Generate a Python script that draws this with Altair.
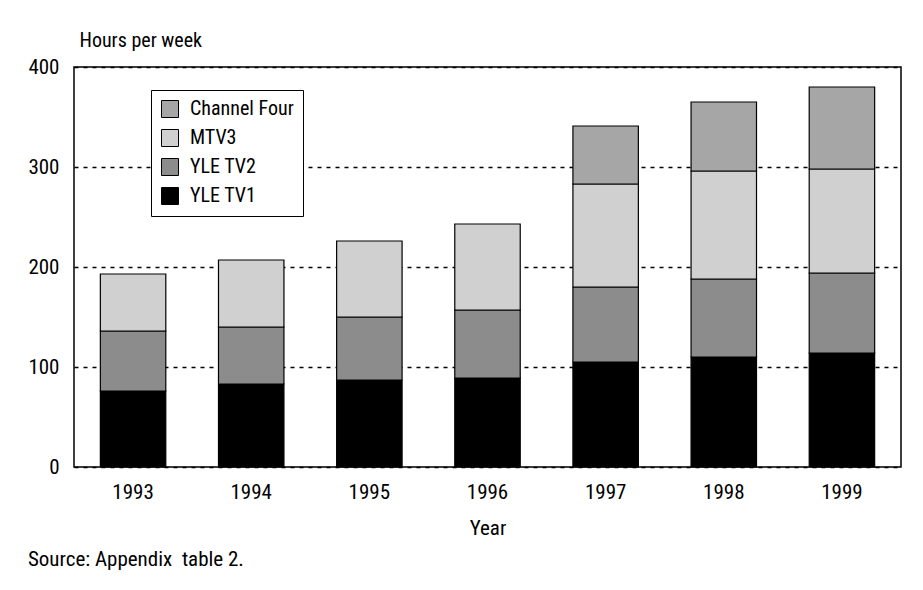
import altair as alt
import pandas as pd

years = ["1993", "1994", "1995", "1996", "1997", "1998", "1999"]
# segment heights (hours per week)
tv1 = [76, 83, 87, 89, 105, 110, 114]
tv2 = [60, 57, 63, 68, 75, 78, 80]
mtv3 = [57, 67, 76, 86, 103, 108, 104]
ch4 = [0, 0, 0, 0, 58, 69, 82]

series = ["YLE TV1", "YLE TV2", "MTV3", "Channel Four"]
legend_order = ["Channel Four", "MTV3", "YLE TV2", "YLE TV1"]
colors = ["#a6a6a6", "#d0d0d0", "#8c8c8c", "#000000"]

rows = []
for i, y in enumerate(years):
    for rank, (name, vals) in enumerate(zip(series, [tv1, tv2, mtv3, ch4])):
        if vals[i] > 0:
            rows.append({"Year": y, "Channel": name, "Hours": vals[i], "rank": rank})
df = pd.DataFrame(rows)

FONT = "Liberation Sans Narrow, Arial Narrow, Roboto Condensed, DejaVu Sans Condensed, sans-serif"

chart = alt.Chart(df).mark_bar(stroke="black", strokeWidth=1.2).encode(
    x=alt.X("Year:O", title="Year",
            scale=alt.Scale(paddingInner=0.446, paddingOuter=0.223),
            axis=alt.Axis(labelAngle=0, ticks=False, tickSize=0, domain=False,
                          labelPadding=14, labelFontSize=21, titleFontSize=21,
                          titleFontWeight="normal", titlePadding=15)),
    y=alt.Y("Hours:Q", stack="zero",
            scale=alt.Scale(domain=[0, 400], nice=False),
            axis=alt.Axis(values=[0, 100, 200, 300, 400], ticks=False, tickSize=0,
                          domain=False, labelPadding=15, labelFontSize=21,
                          grid=True, gridColor="black", gridDash=[4, 5], gridWidth=1.5,
                          title="Hours per week", titleAngle=0, titleAlign="left",
                          titleBaseline="alphabetic", titleX=5, titleY=-21,
                          titleFontSize=20, titleFontWeight="normal")),
    color=alt.Color("Channel:N",
                    scale=alt.Scale(domain=legend_order, range=colors),
                    legend=alt.Legend(title=None, orient="none", legendX=77, legendY=23,
                                      symbolType="square", symbolSize=289,
                                      symbolStrokeColor="black", symbolStrokeWidth=1,
                                      labelFontSize=20, labelLimit=300, rowPadding=7,
                                      padding=9, strokeColor="black", fillColor="white",
                                      labelOffset=10)),
    order=alt.Order("rank:Q", sort="ascending"),
).properties(
    width=827, height=400,
    title=alt.TitleParams("Source: Appendix\u00a0 table 2.", orient="bottom", anchor="start",
                          frame="bounds", fontSize=21, fontWeight="normal", offset=11,
                          font=FONT, color="black"),
    autosize=alt.AutoSizeParams(type="none"),
    padding={"left": 66, "top": 59, "right": 10, "bottom": 110},
).configure(font=FONT).configure_view(
    stroke="black", strokeWidth=1.5
).configure_axis(
    labelColor="black", titleColor="black", labelFont=FONT, titleFont=FONT
).configure_legend(
    labelColor="black", labelFont=FONT
)

chart.save("out.html", embed_options={"renderer": "svg", "actions": False})
